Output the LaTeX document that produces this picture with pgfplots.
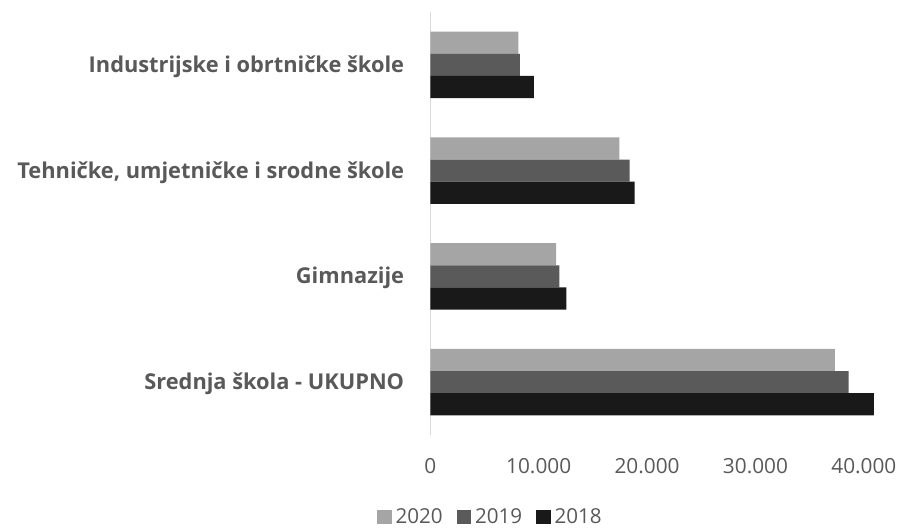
\documentclass[border=0pt]{standalone}
\usepackage{fontspec}
\setmainfont{Open Sans}
\usepackage{pgfplots}
\pgfplotsset{compat=1.18}
\usepackage{pgfplotstable}
\definecolor{cA}{HTML}{A5A5A5}
\definecolor{cB}{HTML}{5A5A5A}
\definecolor{cC}{HTML}{191919}
\definecolor{txt}{HTML}{595959}
\definecolor{axl}{HTML}{D9D9D9}
% idx: 0 = Srednja skola - UKUPNO, 1 = Gimnazije, 2 = Tehnicke..., 3 = Industrijske...
\pgfplotstableread{
idx y2020 y2019 y2018
0 37330 38600 40930
1 11600 11900 12550
2 17440 18390 18860
3 8120 8270 9560
}\datatable
\begin{document}
\begin{tikzpicture}
\useasboundingbox (0,0) rectangle (899bp,528bp);
\begin{axis}[
  at={(430.3bp,93bp)}, anchor=south west,
  scale only axis, width=444.4bp, height=423bp,
  xmin=0, xmax=41000, ymin=-0.5, ymax=3.5,
  xbar, bar width=0.21,
  axis lines*=left,
  x axis line style={draw=none},
  y axis line style={draw=axl, line width=1.2bp},
  major tick length=0pt,
  xtick={0,10000,20000,30000,40000},
  scaled x ticks=false,
  /pgf/number format/.cd, 1000 sep={.}, assume math mode=true,
  /pgfplots/.cd,
  ytick={0,1,2,3},
  yticklabels={Srednja škola - UKUPNO, Gimnazije, {Tehničke, umjetničke i srodne škole}, Industrijske i obrtničke škole},
  xticklabel style={font=\fontsize{20.8bp}{24bp}\selectfont, text=txt, anchor=center, yshift=-31.5bp},
  yticklabel style={font=\fontsize{21.8bp}{26bp}\selectfont\bfseries, text=txt, anchor=base east, inner sep=0pt, xshift=-26bp, yshift=-7.6bp},
  legend columns=3,
  legend style={at={(0.1377,-0.1939)}, anchor=center, draw=none, fill=none,
    font=\fontsize{20.6bp}{24bp}\selectfont, text=txt,
    nodes={inner xsep=4bp},
    /tikz/every even column/.append style={column sep=10bp}},
  legend image code/.code={\fill[#1] (0bp,-7.2bp) rectangle (14.4bp,7.2bp);},
]
\addplot[fill=cA, draw=none, bar shift=0.21] table[x=y2020, y=idx] {\datatable};
\addplot[fill=cB, draw=none, bar shift=0] table[x=y2019, y=idx] {\datatable};
\addplot[fill=cC, draw=none, bar shift=-0.21] table[x=y2018, y=idx] {\datatable};
\legend{2020, 2019, 2018}
\end{axis}
\end{tikzpicture}
\end{document}
